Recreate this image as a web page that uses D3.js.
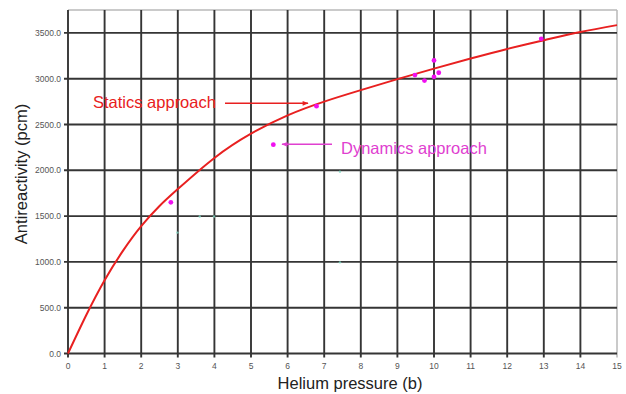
<!DOCTYPE html>
<html>
<head>
<meta charset="utf-8">
<script src="https://cdn.jsdelivr.net/npm/d3@7"></script>
<style>
  html, body { margin: 0; padding: 0; background: #fff; }
  svg { display: block; }
</style>
</head>
<body>
<svg id="chart" width="626" height="394"></svg>
<script>
// Statics approach: antireactivity (pcm) vs helium pressure (b)
const staticsPressure = [0, 0.5, 1, 1.5, 2, 2.5, 3, 4, 5, 6, 7, 8, 9, 10, 11, 12, 13, 14, 15];
const staticsRho      = [0, 420, 800, 1120, 1390, 1610, 1795, 2135, 2400, 2600, 2750, 2875, 2995, 3110, 3220, 3325, 3420, 3510, 3585];

// Dynamics approach measurements
const dynamicsPressure = [2.81, 5.61, 6.79, 9.48, 9.74, 10.0, 10.0, 10.13, 12.93];
const dynamicsRho      = [1650, 2280, 2700, 3040, 2980, 3200, 3020, 3065, 3435];

// Faint auxiliary points
const auxPressure = [2.99, 3.6, 3.99, 7.43, 7.43];
const auxRho      = [1320, 1496, 1496, 1985, 995];

const xTicks = d3.range(0, 16, 1);
const yTicks = [0, 500, 1000, 1500, 2000, 2500, 3000, 3500];
const xDomain = [0, 15];
const yDomain = [0, 3750];

const W = 626, H = 394;
const margin = { top: 10, right: 9, bottom: 40.5, left: 68 };
const svg = d3.select("#chart");

const x = d3.scaleLinear().domain(xDomain).range([margin.left, W - margin.right]);
const y = d3.scaleLinear().domain(yDomain).range([H - margin.bottom, margin.top]);

const font = "'Liberation Sans', Arial, sans-serif";
const gridColor = "#353535";
const titleSize = 16.5;

// Outer frame (top and right in light grey)
svg.append("line").attr("x1", x(0)).attr("x2", x(15)).attr("y1", y(3750)).attr("y2", y(3750))
  .attr("stroke", "#b8b8b8").attr("stroke-width", 1.5);
svg.append("line").attr("x1", x(15)).attr("x2", x(15)).attr("y1", y(3750)).attr("y2", y(0) + 4)
  .attr("stroke", "#b8b8b8").attr("stroke-width", 1.5);

// Vertical grid lines with tick stubs below the axis
svg.append("g").selectAll("line").data(xTicks.filter(d => d < 15)).join("line")
  .attr("x1", d => x(d)).attr("x2", d => x(d))
  .attr("y1", y(3750)).attr("y2", y(0) + 4)
  .attr("stroke", gridColor).attr("stroke-width", 1.9);

// Horizontal grid lines with tick stubs left of the axis
svg.append("g").selectAll("line").data(yTicks).join("line")
  .attr("x1", x(0) - 4).attr("x2", x(15))
  .attr("y1", d => y(d)).attr("y2", d => y(d))
  .attr("stroke", gridColor).attr("stroke-width", 1.9);

// Tick labels
svg.append("g").selectAll("text").data(xTicks).join("text")
  .attr("x", d => x(d)).attr("y", y(0) + 15)
  .attr("text-anchor", "middle")
  .attr("font-family", font).attr("font-size", 8.5).attr("fill", "#555")
  .text(d => d);

svg.append("g").selectAll("text").data(yTicks).join("text")
  .attr("x", x(0) - 7).attr("y", d => y(d) + 3)
  .attr("text-anchor", "end")
  .attr("font-family", font).attr("font-size", 8.5).attr("fill", "#555")
  .text(d => d.toFixed(1));

// Axis titles
svg.append("text")
  .attr("x", 350).attr("y", 389)
  .attr("text-anchor", "middle")
  .attr("font-family", font).attr("font-size", titleSize).attr("fill", "#222")
  .text("Helium pressure (b)");

svg.append("text")
  .attr("transform", "translate(27,174) rotate(-90)")
  .attr("text-anchor", "middle")
  .attr("font-family", font).attr("font-size", titleSize).attr("fill", "#222")
  .text("Antireactivity (pcm)");

// Statics curve
const staticsData = staticsPressure.map((p, i) => [p, staticsRho[i]]);
svg.append("path")
  .datum(staticsData)
  .attr("d", d3.line().x(d => x(d[0])).y(d => y(d[1])).curve(d3.curveNatural))
  .attr("fill", "none").attr("stroke", "#e82020").attr("stroke-width", 2);

// Faint auxiliary points
svg.append("g").selectAll("circle").data(auxPressure.map((p, i) => [p, auxRho[i]])).join("circle")
  .attr("cx", d => x(d[0])).attr("cy", d => y(d[1])).attr("r", 1.2)
  .attr("fill", "#7fd6c2").attr("opacity", 0.8);

// Dynamics points
svg.append("g").selectAll("circle").data(dynamicsPressure.map((p, i) => [p, dynamicsRho[i]])).join("circle")
  .attr("cx", d => x(d[0])).attr("cy", d => y(d[1])).attr("r", 2.4)
  .attr("fill", "#f010f0");

// Arrow markers
const defs = svg.append("defs");
function marker(id, color) {
  defs.append("marker").attr("id", id)
    .attr("viewBox", "0 0 10 10").attr("refX", 9).attr("refY", 5)
    .attr("markerWidth", 7).attr("markerHeight", 6).attr("orient", "auto-start-reverse")
    .attr("markerUnits", "userSpaceOnUse")
    .append("path").attr("d", "M0,1 L10,5 L0,9 Z").attr("fill", color);
}
marker("arrowRed", "#e82020");
marker("arrowPink", "#e040d0");

// Statics annotation
svg.append("text")
  .attr("x", 93).attr("y", 107.5)
  .attr("font-family", font).attr("font-size", titleSize).attr("fill", "#e82020")
  .text("Statics approach");
svg.append("line")
  .attr("x1", 225).attr("y1", 103.3).attr("x2", 308).attr("y2", 103.3)
  .attr("stroke", "#e82020").attr("stroke-width", 1.5)
  .attr("marker-end", "url(#arrowRed)");

// Dynamics annotation
svg.append("text")
  .attr("x", 341).attr("y", 154)
  .attr("font-family", font).attr("font-size", titleSize).attr("fill", "#e040d0")
  .text("Dynamics approach");
svg.append("line")
  .attr("x1", 332).attr("y1", 144.3).attr("x2", 282).attr("y2", 144.3)
  .attr("stroke", "#e040d0").attr("stroke-width", 1.5)
  .attr("marker-end", "url(#arrowPink)");
</script>
</body>
</html>
